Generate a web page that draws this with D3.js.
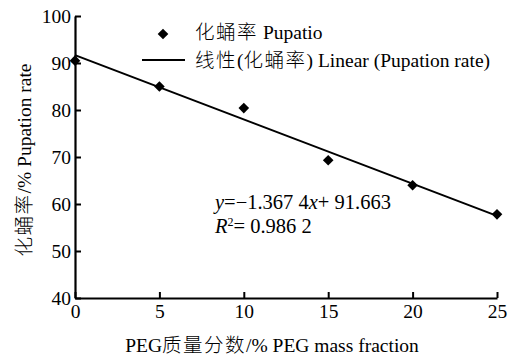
<!DOCTYPE html>
<html>
<head>
<meta charset="utf-8">
<script src="https://cdn.jsdelivr.net/npm/d3@7"></script>
</head>
<body style="margin:0;background:#fff">
<div id="chart"></div>
<script>
// data
var pegFraction = [0, 5, 10, 15, 20, 25];
var pupationRate = [90.5, 85.0, 80.4, 69.3, 64.0, 57.8];
var xTicks = [0, 5, 10, 15, 20, 25];
var yTicks = [40, 50, 60, 70, 80, 90, 100];
var slope = -1.3674, intercept = 91.663;

var width = 509, height = 359;
var fs = 19.5;
var serif = "'Liberation Serif'";
var cjkFont = "'Noto Sans CJK SC'";

var svg = d3.select("#chart").append("svg")
  .attr("width", width)
  .attr("height", height);

var x = d3.scaleLinear().domain([0, 25]).range([75, 497]);
var y = d3.scaleLinear().domain([40, 100]).range([298, 16]);

// put chinese runs in their own tspan so latin stays serif
function mixed(sel, str) {
  str.split(/([\u4e00-\u9fff]+)/).forEach(function (part) {
    if (!part) return;
    var t = sel.append("tspan").text(part);
    if (/[\u4e00-\u9fff]/.test(part)) t.attr("class", "cjk").attr("font-size", 19.5);
  });
  return sel;
}

// axes, ticks pointing inward
svg.append("g")
  .attr("transform", "translate(0," + y(40) + ")")
  .call(d3.axisBottom(x).tickValues(xTicks).tickSizeInner(-6).tickSizeOuter(0).tickPadding(5))
  .call(g => g.select(".domain").attr("stroke-width", 2.2))
  .call(g => g.selectAll(".tick line").attr("stroke-width", 2))
  .call(g => g.selectAll(".tick text").attr("font-size", fs).attr("dy", "0.75em"));

svg.append("g")
  .attr("transform", "translate(" + x(0) + ",0)")
  .call(d3.axisLeft(y).tickValues(yTicks).tickSizeInner(-6).tickSizeOuter(0).tickPadding(4))
  .call(g => g.select(".domain").attr("stroke-width", 2.2))
  .call(g => g.selectAll(".tick line").attr("stroke-width", 2))
  .call(g => g.selectAll(".tick text").attr("font-size", fs));

// trend line
svg.append("line")
  .attr("x1", x(0)).attr("y1", y(intercept))
  .attr("x2", x(25)).attr("y2", y(intercept + slope * 25))
  .attr("stroke", "#000")
  .attr("stroke-width", 2);

// points
var diamond = d3.symbol().type(d3.symbolDiamond2).size(72);
svg.selectAll(".pt")
  .data(pegFraction)
  .enter().append("path")
  .attr("class", "pt")
  .attr("d", diamond)
  .attr("transform", (d, i) => "translate(" + x(d) + "," + y(pupationRate[i]) + ")")
  .attr("fill", "#000");

// legend
svg.append("path")
  .attr("d", diamond)
  .attr("transform", "translate(163,34)")
  .attr("fill", "#000");
mixed(svg.append("text").attr("x", 195).attr("y", 39).attr("font-size", fs),
  "化蛹率 Pupatio");
svg.append("line")
  .attr("x1", 142).attr("x2", 185)
  .attr("y1", 60).attr("y2", 60)
  .attr("stroke", "#000").attr("stroke-width", 2);
mixed(svg.append("text").attr("x", 195).attr("y", 67).attr("font-size", fs),
  "线性(化蛹率) Linear (Pupation rate)");

// equation
var eq = svg.append("text")
  .attr("x", 215).attr("y", 209)
  .attr("font-size", 20.5);
eq.append("tspan").attr("font-style", "italic").text("y");
eq.append("tspan").text("=\u22121.367 4");
eq.append("tspan").attr("font-style", "italic").text("x");
eq.append("tspan").text("+ 91.663");

var r2 = svg.append("text")
  .attr("x", 215).attr("y", 233)
  .attr("font-size", 20.5);
r2.append("tspan").attr("font-style", "italic").text("R");
r2.append("tspan").attr("font-size", 12).attr("dy", -7).text("2");
r2.append("tspan").attr("dy", 7).text("= 0.986 2");

// axis titles
mixed(svg.append("text")
  .attr("x", 272).attr("y", 352)
  .attr("text-anchor", "middle")
  .attr("font-size", fs), "PEG质量分数/% PEG mass fraction");

mixed(svg.append("text")
  .attr("transform", "translate(31,160) rotate(-90)")
  .attr("text-anchor", "middle")
  .attr("font-size", fs), "化蛹率/% Pupation rate");

// fonts set inline, the stylesheet route did not take
svg.selectAll("text").style("font-family", serif).style("fill", "#000");
svg.selectAll("tspan.cjk").style("font-family", cjkFont).style("font-weight", 300)
  .attr("letter-spacing", 1.5);
</script>
</body>
</html>
